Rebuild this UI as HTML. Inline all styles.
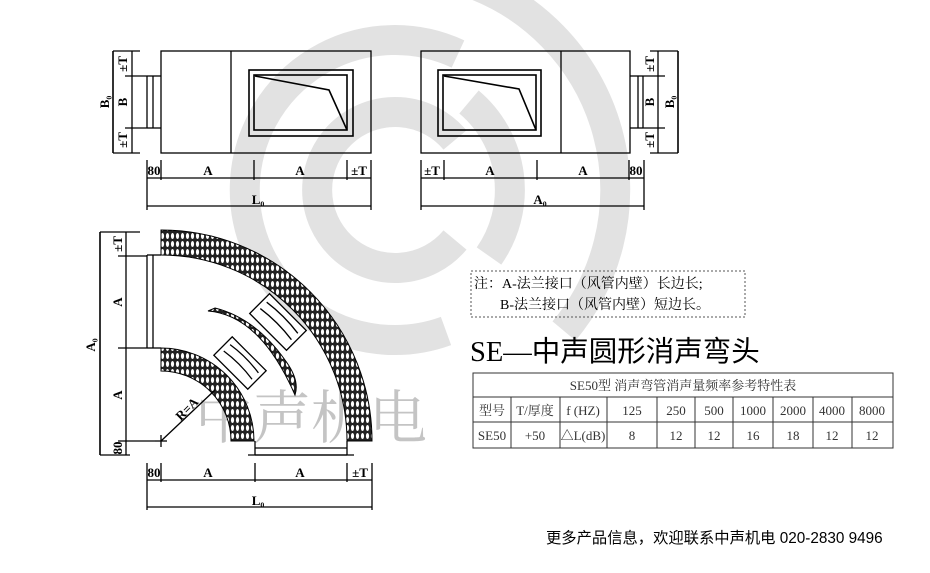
<!DOCTYPE html>
<html><head><meta charset="utf-8"><style>
html,body{margin:0;padding:0;background:#fff;}
svg{display:block;}
.t{font-family:"Liberation Serif","Noto Serif CJK SC",serif;}
</style></head><body>
<svg width="930" height="573" viewBox="0 0 930 573" xmlns="http://www.w3.org/2000/svg">
<defs>
<pattern id="h" width="5" height="8" patternUnits="userSpaceOnUse">
<rect width="5" height="8" fill="#222"/>
<ellipse cx="2.5" cy="4" rx="1.6" ry="3" fill="#fff"/>
</pattern>
</defs>
<g fill="none" stroke="#e2e2e2" stroke-width="30">
<path d="M455,240 A78 78 0 1 1 455,140"/>
<path d="M446,331 A150 150 0 1 1 458,54"/>
<path d="M469,102 A115 115 0 0 1 489,256"/>
<path d="M470,-17 A220 220 0 0 1 564,331"/>
</g>
<text x="195" y="438" font-family="'Liberation Serif','Noto Serif CJK SC',serif" font-size="58" fill="#c4c4c4">中声机电</text>

<g stroke="#000" fill="none" stroke-width="1.3">
<rect x="161" y="51" width="210" height="102"/>
<line x1="231" y1="51" x2="231" y2="153"/>
<rect x="249" y="70" width="104" height="66" stroke-width="1.6"/>
<rect x="254" y="75" width="93" height="55" stroke-width="1.6"/>
<polyline points="255,76 329,90 347,130" stroke-width="1.6"/>
<line x1="147" y1="76" x2="161" y2="76"/><line x1="147" y1="128" x2="161" y2="128"/>
<line x1="147" y1="76" x2="147" y2="128"/><line x1="153" y1="76" x2="153" y2="128"/>
<line x1="113" y1="51" x2="113" y2="153" stroke-width="1.6"/>
<line x1="132" y1="51" x2="132" y2="153"/>
<line x1="113" y1="51" x2="140" y2="51"/><line x1="113" y1="153" x2="140" y2="153"/>
<line x1="125" y1="76" x2="147" y2="76"/><line x1="125" y1="128" x2="147" y2="128"/>
<line x1="147" y1="178" x2="371" y2="178"/>
<line x1="147" y1="160" x2="147" y2="210"/><line x1="161" y1="160" x2="161" y2="180"/>
<line x1="254" y1="160" x2="254" y2="180"/><line x1="347" y1="160" x2="347" y2="180"/>
<line x1="371" y1="160" x2="371" y2="210"/>
<line x1="147" y1="206" x2="371" y2="206"/>
<rect x="421" y="51" width="209" height="102"/>
<line x1="561" y1="51" x2="561" y2="153"/>
<rect x="438" y="70" width="103" height="66" stroke-width="1.6"/>
<rect x="443" y="75" width="93" height="55" stroke-width="1.6"/>
<polyline points="444,76 519,89 536,130" stroke-width="1.6"/>
<line x1="630" y1="76" x2="643" y2="76"/><line x1="630" y1="128" x2="643" y2="128"/>
<line x1="643" y1="76" x2="643" y2="128"/><line x1="638" y1="76" x2="638" y2="128"/>
<line x1="678" y1="51" x2="678" y2="153" stroke-width="1.6"/>
<line x1="658" y1="51" x2="658" y2="153"/>
<line x1="650" y1="51" x2="678" y2="51"/><line x1="650" y1="153" x2="678" y2="153"/>
<line x1="643" y1="76" x2="665" y2="76"/><line x1="643" y1="128" x2="665" y2="128"/>
<line x1="421" y1="178" x2="644" y2="178"/>
<line x1="421" y1="160" x2="421" y2="210"/><line x1="444" y1="160" x2="444" y2="180"/>
<line x1="537" y1="160" x2="537" y2="180"/><line x1="629" y1="160" x2="629" y2="180"/>
<line x1="644" y1="160" x2="644" y2="210"/>
<line x1="421" y1="206" x2="644" y2="206"/>
<path d="M161,230 A211 211 0 0 1 372,441 L347,441 A186 186 0 0 0 161,255 Z" fill="url(#h)" stroke-width="1"/>
<path d="M161,348 A93 93 0 0 1 254,441 L231,441 A70 70 0 0 0 161,371 Z" fill="url(#h)" stroke-width="1"/>
<path d="M208,311 Q260,315 295,395 Q300,380 285,360 Q255,318 215,308 Z" fill="url(#h)" stroke-width="1"/>
<g transform="translate(240 363) rotate(45)">
<rect x="-24" y="-13" width="48" height="26" fill="#fff"/>
<path d="M-20 -6 Q0 -9 20 -6 M-20 3 Q0 0 20 3"/>
</g>
<g transform="translate(278 322) rotate(45)">
<rect x="-26" y="-14" width="52" height="28" fill="#fff"/>
<path d="M-22 -6 Q0 -9 22 -6 M-22 3 Q0 0 22 3"/>
</g>
<line x1="147" y1="255" x2="161" y2="255"/><line x1="147" y1="348" x2="161" y2="348"/>
<line x1="147" y1="255" x2="147" y2="348"/><line x1="153" y1="255" x2="153" y2="348"/>
<line x1="255" y1="455" x2="347" y2="455"/><line x1="255" y1="448" x2="347" y2="448"/>
<line x1="255" y1="441" x2="255" y2="455"/><line x1="347" y1="441" x2="347" y2="455"/>
<line x1="248" y1="455" x2="354" y2="455"/>
<line x1="161" y1="441" x2="215" y2="390"/>
<line x1="155" y1="441" x2="167" y2="441"/><line x1="161" y1="435" x2="161" y2="447"/>
<line x1="100" y1="232" x2="100" y2="455" stroke-width="1.6"/>
<line x1="126" y1="232" x2="126" y2="455"/>
<line x1="100" y1="232" x2="140" y2="232"/><line x1="118" y1="256" x2="147" y2="256"/>
<line x1="118" y1="348" x2="147" y2="348"/><line x1="118" y1="441" x2="155" y2="441"/>
<line x1="100" y1="455" x2="130" y2="455"/>
<line x1="147" y1="480" x2="372" y2="480"/>
<line x1="147" y1="463" x2="147" y2="510"/><line x1="161" y1="463" x2="161" y2="482"/>
<line x1="255" y1="463" x2="255" y2="482"/><line x1="347" y1="463" x2="347" y2="482"/>
<line x1="372" y1="463" x2="372" y2="510"/>
<line x1="147" y1="507" x2="372" y2="507"/>
</g>
<g class="t" font-size="13" font-weight="bold" fill="#000" text-anchor="middle">
<text x="154" y="175">80</text><text x="208" y="175">A</text><text x="300" y="175">A</text><text x="359" y="175">±T</text>
<text x="258" y="204">L₀</text>
<text x="432" y="175">±T</text><text x="490" y="175">A</text><text x="583" y="175">A</text><text x="636" y="175">80</text>
<text x="540" y="204">A₀</text>
<text x="154" y="477">80</text><text x="208" y="477">A</text><text x="300" y="477">A</text><text x="360" y="477">±T</text>
<text x="258" y="505">L₀</text>
<text transform="translate(127 64) rotate(-90)">±T</text>
<text transform="translate(127 102) rotate(-90)">B</text>
<text transform="translate(127 140) rotate(-90)">±T</text>
<text transform="translate(109 102) rotate(-90)">B₀</text>
<text transform="translate(654 64) rotate(-90)">±T</text>
<text transform="translate(654 102) rotate(-90)">B</text>
<text transform="translate(654 140) rotate(-90)">±T</text>
<text transform="translate(674 102) rotate(-90)">B₀</text>
<text transform="translate(122 244) rotate(-90)">±T</text>
<text transform="translate(122 302) rotate(-90)">A</text>
<text transform="translate(122 395) rotate(-90)">A</text>
<text transform="translate(122 448) rotate(-90)">80</text>
<text transform="translate(95 345) rotate(-90)">A₀</text>
<text transform="translate(190 412) rotate(-45)">R=A</text>
</g>
<rect x="471" y="271" width="274" height="46" fill="none" stroke="#555" stroke-dasharray="2 2"/>
<g class="t" font-size="14" fill="#000">
<text x="474" y="288">注：A-法兰接口（风管内壁）长边长;</text>
<text x="500" y="309">B-法兰接口（风管内壁）短边长。</text>
</g>
<text x="470" y="361" font-family="'Liberation Serif','Noto Sans CJK SC',serif" font-size="28.5" fill="#000">SE—中声圆形消声弯头</text>
<g stroke="#333" fill="none" stroke-width="1">
<rect x="473" y="373" width="420" height="75"/>
<line x1="473" y1="397" x2="893" y2="397"/><line x1="473" y1="422" x2="893" y2="422"/>
<line x1="511" y1="397" x2="511" y2="448"/><line x1="560" y1="397" x2="560" y2="448"/>
<line x1="607" y1="397" x2="607" y2="448"/><line x1="657" y1="397" x2="657" y2="448"/>
<line x1="695" y1="397" x2="695" y2="448"/><line x1="733" y1="397" x2="733" y2="448"/>
<line x1="773" y1="397" x2="773" y2="448"/><line x1="813" y1="397" x2="813" y2="448"/>
<line x1="852" y1="397" x2="852" y2="448"/>
</g>
<g class="t" font-size="13" fill="#333" text-anchor="middle">
<text x="683" y="390">SE50型  消声弯管消声量频率参考特性表</text>
<text x="492" y="415">型号</text><text x="535" y="415">T/厚度</text><text x="583" y="415">f (HZ)</text>
<text x="632" y="415">125</text><text x="676" y="415">250</text><text x="714" y="415">500</text><text x="753" y="415">1000</text><text x="793" y="415">2000</text><text x="832" y="415">4000</text><text x="872" y="415">8000</text>
<text x="492" y="440">SE50</text><text x="535" y="440">+50</text><text x="583" y="440">△L(dB)</text>
<text x="632" y="440">8</text><text x="676" y="440">12</text><text x="714" y="440">12</text><text x="753" y="440">16</text><text x="793" y="440">18</text><text x="832" y="440">12</text><text x="872" y="440">12</text>
</g>
<text x="546" y="543" font-family="'Liberation Sans','Noto Sans CJK SC',sans-serif" font-size="15.3" fill="#000">更多产品信息，欢迎联系中声机电 020-2830 9496</text>
</svg>
</body></html>
